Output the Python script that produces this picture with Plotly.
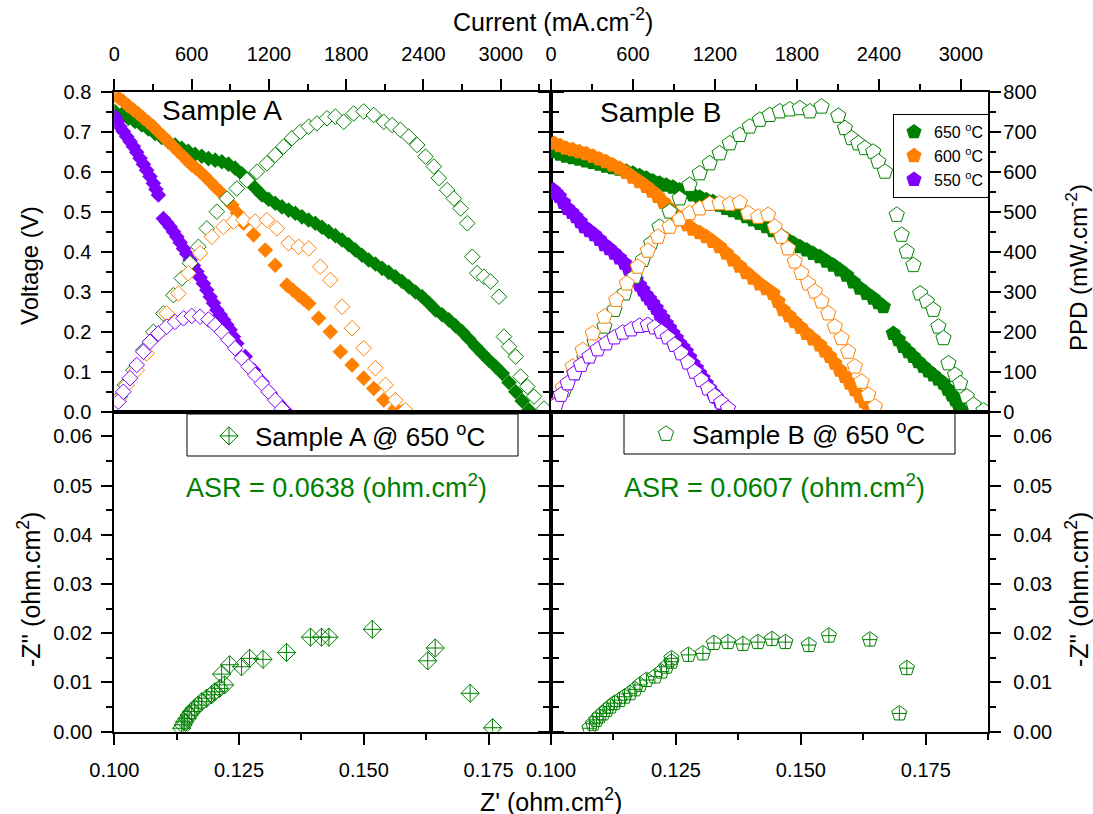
import plotly.graph_objects as go

W, H = 1093, 814
FONT = "Liberation Sans, Arial, sans-serif"
GREEN = "#008000"
ORANGE = "#FF8000"
PURPLE = "#8000FF"

# ---------------- Sample A : I-V (filled) ----------------
A650_I = [5, 57, 109, 161, 213, 264, 316, 368, 420, 472, 524, 575, 627, 679, 731, 783, 835, 886, 938, 990,
          1042, 1094, 1146, 1197, 1249, 1301, 1353, 1405, 1457, 1508, 1560, 1612, 1664, 1716, 1768, 1820, 1871,
          1923, 1975, 2027, 2079, 2130, 2182, 2234, 2286, 2338, 2390, 2442, 2494, 2545, 2597, 2649, 2701, 2753,
          2805, 2856, 2908, 2960, 3012, 3064, 3116, 3167, 3219]
A650_V = [0.752, 0.744, 0.735, 0.727, 0.718, 0.708, 0.697, 0.687, 0.676, 0.668, 0.660, 0.652, 0.645, 0.640,
          0.634, 0.630, 0.626, 0.620, 0.610, 0.596, 0.580, 0.560, 0.543, 0.532, 0.522, 0.513, 0.505, 0.497,
          0.488, 0.480, 0.472, 0.462, 0.451, 0.441, 0.430, 0.418, 0.405, 0.392, 0.380, 0.370, 0.359, 0.349,
          0.338, 0.326, 0.313, 0.300, 0.288, 0.272, 0.255, 0.243, 0.230, 0.215, 0.200, 0.182, 0.163, 0.146,
          0.129, 0.113, 0.096, 0.073, 0.050, 0.027, 0.004]
A600_I = [5, 38, 70, 109, 148, 187, 226, 264, 303, 342, 381, 420, 459, 498, 537, 569, 601, 634, 666, 705, 744,
          783, 822, 867, 912, 957, 1003, 1081, 1172, 1249, 1340, 1385, 1431, 1470, 1509, 1586, 1677, 1755, 1846,
          1936, 2014, 2092, 2182, 2234]
A600_V = [0.793, 0.785, 0.777, 0.766, 0.756, 0.746, 0.735, 0.725, 0.714, 0.701, 0.689, 0.676, 0.664, 0.651,
          0.639, 0.628, 0.618, 0.610, 0.601, 0.589, 0.576, 0.563, 0.551, 0.535, 0.518, 0.497, 0.472, 0.443,
          0.405, 0.367, 0.317, 0.305, 0.292, 0.282, 0.271, 0.234, 0.200, 0.150, 0.117, 0.084, 0.058, 0.029,
          0.008, 0.000]
A550_I = [5, 25, 44, 70, 96, 122, 148, 174, 200, 226, 251, 277, 303, 323, 342, 381, 407, 433, 459, 485, 511, 537,
          563, 588, 614, 640, 666, 692, 718, 744, 770, 796, 822, 848, 873, 899, 925, 951, 1016, 1081, 1146, 1210,
          1275, 1327]
A550_V = [0.739, 0.727, 0.714, 0.702, 0.689, 0.677, 0.664, 0.650, 0.635, 0.620, 0.605, 0.589, 0.572, 0.557,
          0.543, 0.484, 0.474, 0.463, 0.451, 0.438, 0.424, 0.409, 0.395, 0.380, 0.366, 0.351, 0.336, 0.321,
          0.305, 0.288, 0.272, 0.255, 0.243, 0.230, 0.218, 0.205, 0.188, 0.171, 0.138, 0.104, 0.075, 0.046,
          0.021, 0.003]

# ---------------- Sample A : power density (open) ----------------
A650_PI = [44, 83, 148, 226, 303, 381, 459, 524, 588, 653, 718, 796, 874, 951, 1029, 1107, 1185, 1249, 1314,
           1379, 1444, 1509, 1573, 1651, 1716, 1781, 1858, 1936, 2014, 2092, 2157, 2221, 2286, 2351, 2416, 2481,
           2519, 2584, 2636, 2688, 2740, 2779, 2817, 2869, 2921, 2986, 3025, 3064, 3116, 3154, 3206, 3258, 3336]
A650_P = [38, 67, 104, 154, 200, 246, 292, 334, 372, 413, 459, 501, 534, 559, 580, 601, 622, 643, 664, 685, 701,
          714, 722, 735, 739, 726, 747, 752, 743, 726, 718, 706, 689, 668, 639, 614, 585, 555, 534, 509, 472, 388,
          347, 338, 326, 288, 188, 163, 138, 88, 63, 38, 8]
A600_PI = [31, 96, 174, 251, 329, 407, 498, 575, 666, 757, 848, 925, 1003, 1094, 1185, 1262, 1353, 1431, 1509,
           1599, 1677, 1768, 1846, 1936, 2027, 2105, 2182, 2260]
A600_P = [30, 67, 104, 146, 192, 246, 296, 347, 397, 438, 463, 476, 480, 476, 480, 459, 422, 413, 409, 363, 330,
          263, 209, 159, 109, 67, 29, 4]
A550_PI = [31, 70, 122, 174, 226, 277, 342, 407, 472, 537, 601, 666, 731, 783, 835, 886, 938, 990, 1042, 1094,
           1146, 1197, 1249, 1301]
A550_P = [25, 50, 84, 117, 150, 175, 196, 213, 225, 234, 240, 238, 231, 217, 200, 180, 159, 134, 113, 92, 71, 50,
          29, 8]

# ---------------- Sample B : I-V (filled) ----------------
B650_I = [24, 67, 110, 159, 208, 257, 306, 355, 403, 452, 501, 550, 599, 648, 697, 745, 794, 843, 892, 941, 990,
          1039, 1088, 1136, 1185, 1234, 1283, 1332, 1381, 1430, 1479, 1528, 1576, 1625, 1674, 1723, 1772, 1821,
          1870, 1918, 1967, 2016, 2065, 2114, 2163, 2212, 2261, 2310, 2358, 2395, 2432, 2505, 2542, 2578, 2615,
          2652, 2688, 2725, 2762, 2798, 2835, 2872, 2903, 2933, 2958, 2982, 3006]
B650_V = [0.651, 0.645, 0.640, 0.636, 0.632, 0.628, 0.624, 0.620, 0.615, 0.611, 0.607, 0.602, 0.597, 0.591,
          0.585, 0.578, 0.572, 0.567, 0.562, 0.555, 0.549, 0.543, 0.537, 0.531, 0.526, 0.517, 0.509, 0.503,
          0.497, 0.488, 0.480, 0.471, 0.463, 0.453, 0.443, 0.432, 0.422, 0.413, 0.405, 0.396, 0.388, 0.377,
          0.367, 0.355, 0.342, 0.325, 0.309, 0.296, 0.284, 0.273, 0.263, 0.196, 0.180, 0.163, 0.150, 0.138,
          0.125, 0.113, 0.102, 0.092, 0.081, 0.071, 0.056, 0.042, 0.030, 0.017, 0.003]
B600_I = [24, 67, 110, 159, 208, 257, 306, 355, 403, 452, 501, 550, 599, 648, 697, 740, 782, 825, 868, 910, 953,
          996, 1039, 1088, 1136, 1185, 1234, 1283, 1332, 1381, 1430, 1479, 1528, 1576, 1625, 1662, 1699, 1742,
          1784, 1827, 1870, 1918, 1967, 2004, 2041, 2078, 2114, 2151, 2187, 2224, 2261, 2292, 2322, 2358]
B600_V = [0.672, 0.666, 0.660, 0.656, 0.651, 0.646, 0.640, 0.633, 0.626, 0.618, 0.610, 0.599, 0.587, 0.576,
          0.564, 0.552, 0.539, 0.524, 0.509, 0.494, 0.480, 0.468, 0.457, 0.448, 0.438, 0.426, 0.413, 0.397,
          0.380, 0.364, 0.348, 0.334, 0.320, 0.308, 0.296, 0.276, 0.255, 0.240, 0.225, 0.211, 0.196, 0.182,
          0.167, 0.152, 0.138, 0.121, 0.104, 0.088, 0.071, 0.055, 0.038, 0.025, 0.013, 0.000]
B550_I = [17, 39, 61, 92, 122, 153, 183, 214, 244, 281, 318, 355, 391, 428, 464, 501, 538, 569, 599, 624, 648,
          673, 697, 721, 745, 770, 794, 819, 843, 868, 892, 917, 941, 966, 990, 1015, 1039, 1064, 1088, 1112,
          1136, 1161, 1185, 1210, 1234, 1252, 1271]
B550_V = [0.555, 0.547, 0.539, 0.524, 0.509, 0.499, 0.488, 0.476, 0.463, 0.453, 0.443, 0.431, 0.418, 0.408,
          0.397, 0.385, 0.372, 0.357, 0.342, 0.330, 0.317, 0.305, 0.292, 0.282, 0.271, 0.259, 0.246, 0.234,
          0.221, 0.209, 0.196, 0.184, 0.171, 0.161, 0.150, 0.136, 0.121, 0.109, 0.096, 0.084, 0.071, 0.058,
          0.046, 0.036, 0.025, 0.015, 0.004]

# ---------------- Sample B : power density (open) ----------------
B650_PI = [24, 98, 171, 244, 318, 391, 464, 538, 611, 672, 733, 794, 868, 941, 1014, 1088, 1161, 1234, 1308,
           1381, 1454, 1528, 1601, 1674, 1747, 1821, 1894, 1980, 2102, 2151, 2200, 2248, 2297, 2358, 2395, 2444,
           2530, 2566, 2603, 2652, 2701, 2750, 2798, 2835, 2872, 2908, 2957, 2994, 3043, 3092, 3165]
B650_P = [17, 54, 96, 134, 175, 213, 255, 296, 338, 380, 422, 463, 501, 534, 568, 597, 622, 647, 672, 693, 714,
          731, 743, 752, 757, 760, 752, 764, 741, 710, 685, 672, 660, 651, 626, 601, 493, 443, 401, 367, 296, 276,
          255, 213, 184, 121, 92, 71, 38, 17, 3]
B600_PI = [24, 86, 159, 232, 306, 391, 477, 555, 635, 709, 782, 868, 941, 1014, 1088, 1161, 1234, 1308, 1381,
           1442, 1515, 1589, 1637, 1686, 1735, 1784, 1833, 1882, 1931, 1980, 2029, 2077, 2126, 2175, 2224, 2273,
           2322, 2371]
B600_P = [17, 60, 113, 154, 196, 238, 280, 321, 363, 403, 438, 463, 482, 497, 509, 520, 522, 520, 524, 497, 488,
          493, 463, 438, 409, 376, 347, 321, 301, 276, 246, 213, 184, 150, 113, 75, 42, 13]
B550_PI = [37, 73, 122, 171, 220, 281, 342, 403, 464, 525, 587, 648, 709, 758, 807, 855, 904, 953, 1002, 1051,
           1100, 1149, 1198, 1246, 1295]
B550_P = [17, 42, 71, 96, 117, 138, 156, 171, 186, 198, 206, 215, 217, 211, 200, 186, 167, 146, 123, 100, 79, 58,
          39, 23, 8]

# ---------------- Nyquist (impedance) ----------------
NA_ZRE = [0.1135, 0.1138, 0.1141, 0.1146, 0.1150, 0.1155, 0.1161, 0.1168, 0.1175, 0.1185, 0.1195, 0.1201,
          0.1211, 0.1221, 0.1215, 0.1231, 0.1255, 0.1271, 0.1298, 0.1345, 0.1393, 0.1415, 0.1430, 0.1517,
          0.1628, 0.1643, 0.1713, 0.1758]
NA_ZIM = [0.0007, 0.0014, 0.0020, 0.0027, 0.0034, 0.0041, 0.0048, 0.0054, 0.0061, 0.0068, 0.0075, 0.0081,
          0.0088, 0.0095, 0.0117, 0.0136, 0.0132, 0.0149, 0.0147, 0.0161, 0.0192, 0.0192, 0.0192, 0.0208,
          0.0144, 0.0170, 0.0078, 0.0008]
NB_ZRE = [0.1077, 0.1084, 0.1091, 0.1097, 0.1104, 0.1111, 0.1119, 0.1127, 0.1137, 0.1147, 0.1158, 0.1168,
          0.1178, 0.1191, 0.1208, 0.1221, 0.1231, 0.1241, 0.1241, 0.1275, 0.1304, 0.1326, 0.1354, 0.1384,
          0.1414, 0.1442, 0.1469, 0.1516, 0.1556, 0.1638, 0.1712, 0.1697]
NB_ZIM = [0.0007, 0.0016, 0.0024, 0.0031, 0.0037, 0.0044, 0.0051, 0.0058, 0.0064, 0.0071, 0.0078, 0.0086,
          0.0095, 0.0105, 0.0112, 0.0122, 0.0132, 0.0142, 0.0149, 0.0156, 0.0159, 0.0180, 0.0182, 0.0178,
          0.0182, 0.0188, 0.0182, 0.0176, 0.0195, 0.0187, 0.0129, 0.0037]

TEMPS = ["650 <sup>o</sup>C", "600 <sup>o</sup>C", "550 <sup>o</sup>C"]
COLORS = [GREEN, ORANGE, PURPLE]


def px(x):
    return x / W


def py(y):
    return 1 - y / H


fig = go.Figure()


def filled(x, y, color, symbol, size, xa, ya, name=None):
    fig.add_trace(go.Scatter(
        x=x, y=y, mode="markers", xaxis=xa, yaxis=ya, name=name or "",
        showlegend=name is not None, legend="legend",
        marker=dict(symbol=symbol, size=size, color=color, line=dict(width=0))))


def opened(x, y, color, symbol, size, xa, ya):
    fig.add_trace(go.Scatter(
        x=x, y=y, mode="markers", xaxis=xa, yaxis=ya, showlegend=False,
        marker=dict(symbol=symbol, size=size, color="white", line=dict(width=1, color=color))))


# Sample A
for (I, V), c in zip([(A650_I, A650_V), (A600_I, A600_V), (A550_I, A550_V)], COLORS):
    filled(I, V, c, "diamond", 12, "x", "y")
for (I, P), c in zip([(A650_PI, A650_P), (A600_PI, A600_P), (A550_PI, A550_P)], COLORS):
    opened(I, P, c, "diamond", 12, "x", "y2")
# Sample B
for (I, V), c, t in zip([(B650_I, B650_V), (B600_I, B600_V), (B550_I, B550_V)], COLORS, TEMPS):
    filled(I, V, c, "pentagon", 16, "x3", "y3", name=t)
for (I, P), c in zip([(B650_PI, B650_P), (B600_PI, B600_P), (B550_PI, B550_P)], COLORS):
    opened(I, P, c, "pentagon", 16, "x3", "y4")

# Nyquist
fig.add_trace(go.Scatter(
    x=NA_ZRE, y=NA_ZIM, mode="markers", xaxis="x5", yaxis="y5", legend="legend2",
    name="Sample A @ 650 <sup>o</sup>C",
    marker=dict(symbol="diamond-cross-open", size=14, color=GREEN, line=dict(width=1, color=GREEN))))
fig.add_trace(go.Scatter(
    x=NB_ZRE, y=NB_ZIM, mode="markers", xaxis="x6", yaxis="y6", legend="legend3",
    name="Sample B @ 650 <sup>o</sup>C",
    marker=dict(symbol="pentagon-open", size=16, color=GREEN, line=dict(width=1, color=GREEN))))
fig.add_trace(go.Scatter(
    x=NB_ZRE, y=NB_ZIM, mode="markers", xaxis="x6", yaxis="y6", showlegend=False,
    marker=dict(symbol="cross-thin-open", size=10, color=GREEN, line=dict(width=1, color=GREEN))))

# ---------------- layout ----------------
xA = [px(114.3), px(551)]
xB = [px(551), px(988.3)]
yT = [py(411.7), py(92.3)]
yBt = [py(731.7), py(411.7)]

TF = dict(family=FONT, size=20, color="black")


def ax(**kw):
    base = dict(showline=True, linecolor="black", linewidth=2, showgrid=False, zeroline=False,
                ticks="outside", ticklen=11, tickwidth=2, tickcolor="black", tickfont=TF,
                automargin=False)
    base.update(kw)
    return base


def minor(d, side="outside"):
    return dict(dtick=d, ticks=side, ticklen=6, tickwidth=2, tickcolor="black", showgrid=False)


def inner_x(over, rng):
    return dict(overlaying=over, anchor="y" if over == "x" else "y3", side="bottom", range=rng,
                tick0=0, dtick=600, ticks="inside", ticklen=11, tickwidth=2, tickcolor="black",
                showline=False, showticklabels=False, showgrid=False, zeroline=False, automargin=False,
                minor=minor(300, "inside"))


fig.update_layout(
    template="none",
    width=W, height=H, margin=dict(l=0, r=0, t=0, b=0, pad=0, autoexpand=False),
    paper_bgcolor="white", plot_bgcolor="white",
    font=dict(family=FONT, color="black"),
    xaxis=ax(domain=xA, anchor="y", side="top", range=[0, 3390], tick0=0, dtick=600,
             minor=minor(300), mirror=True, ticklabelstandoff=10),
    xaxis7=inner_x("x", [0, 3390]),
    yaxis=ax(domain=yT, anchor="x", range=[0, 0.8], tick0=0, dtick=0.1, tickformat=".1f",
             minor=minor(0.05), mirror="ticks", ticklabelstandoff=6),
    yaxis2=dict(overlaying="y", anchor="x", side="right", range=[0, 800], visible=False, automargin=False),
    xaxis3=ax(domain=xB, anchor="y3", side="top", range=[0, 3200], tick0=0, dtick=600,
              minor=minor(300), mirror=True, ticklabelstandoff=10),
    xaxis8=inner_x("x3", [0, 3200]),
    yaxis3=ax(domain=yT, anchor="x3", range=[0, 0.8], tick0=0, dtick=0.1, showticklabels=False,
              minor=minor(0.05), mirror="ticks"),
    yaxis4=dict(overlaying="y3", anchor="x3", side="right", range=[0, 800], tick0=0, dtick=100,
                ticks="", showline=False, showgrid=False, zeroline=False, tickfont=TF,
                ticklabelstandoff=14, automargin=False),
    xaxis5=ax(domain=xA, anchor="y5", range=[0.1, 0.1875], tick0=0.1, dtick=0.025, tickformat=".3f",
              minor=minor(0.0125), mirror=True, ticklabelstandoff=8),
    yaxis5=ax(domain=yBt, anchor="x5", range=[0, 0.065], tick0=0, dtick=0.01, tickformat=".2f",
              minor=minor(0.005), mirror="ticks", ticklabelstandoff=5),
    xaxis6=ax(domain=xB, anchor="y6", range=[0.1, 0.1875], tick0=0.1, dtick=0.025, tickformat=".3f",
              minor=minor(0.0125), mirror=True, ticklabelstandoff=8),
    yaxis6=ax(domain=yBt, anchor="x6", side="right", range=[0, 0.065], tick0=0, dtick=0.01,
              tickformat=".2f", minor=minor(0.005), mirror="ticks", ticklabelstandoff=8),
    legend=dict(x=px(893), y=py(114), xanchor="left", yanchor="top", bgcolor="white",
                bordercolor="black", borderwidth=1, font=dict(family=FONT, size=16, color="black"),
                tracegroupgap=0),
    legend2=dict(x=px(203), y=py(436), xanchor="left", yanchor="middle", bgcolor="rgba(0,0,0,0)",
                 borderwidth=0, itemwidth=42, font=dict(family=FONT, size=26, color="black")),
    legend3=dict(x=px(640), y=py(434), xanchor="left", yanchor="middle", bgcolor="rgba(0,0,0,0)",
                 borderwidth=0, itemwidth=42, font=dict(family=FONT, size=26, color="black")),
)

# legend boxes for the impedance panels
for x0, x1, y0, y1 in [(187, 518, 414, 456), (624, 955, 413, 454)]:
    fig.add_shape(type="rect", xref="paper", yref="paper", x0=px(x0), x1=px(x1), y0=py(y1), y1=py(y0),
                  line=dict(color="black", width=1), fillcolor="rgba(0,0,0,0)", layer="above")


def note(text, x, y, size, color="black", angle=0):
    fig.add_annotation(text=text, x=px(x), y=py(y), xref="paper", yref="paper", showarrow=False,
                       xanchor="center", yanchor="middle", textangle=angle,
                       font=dict(family=FONT, size=size, color=color))


note("Sample A", 222, 111, 28)
note("Sample B", 660, 113, 28)
note("ASR = 0.0638 (ohm.cm<sup>2</sup>)", 336, 486, 27, GREEN)
note("ASR = 0.0607 (ohm.cm<sup>2</sup>)", 774, 486, 27, GREEN)
note("Current (mA.cm<sup>-2</sup>)", 553, 20, 25)
note("Z' (ohm.cm<sup>2</sup>)", 551, 800, 25)
note("Voltage (V)", 29, 266, 24, angle=-90)
note("-Z'' (ohm.cm<sup>2</sup>)", 29, 590, 25, angle=-90)
note("PPD (mW.cm<sup>-2</sup>)", 1077, 268, 24, angle=-90)
note("-Z'' (ohm.cm<sup>2</sup>)", 1077, 590, 25, angle=-90)

fig.write_html("out.html")
